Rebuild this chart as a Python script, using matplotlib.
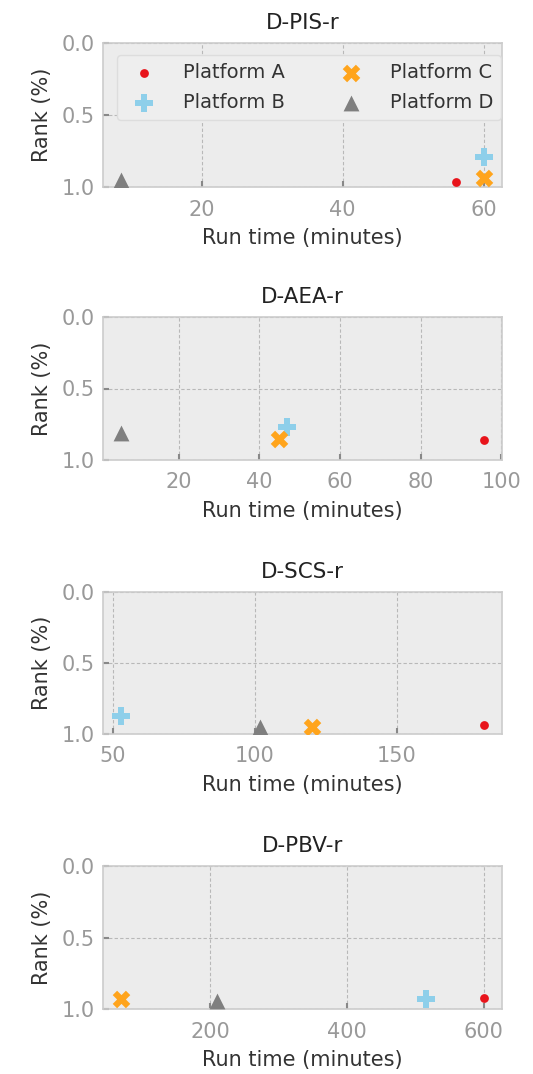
import matplotlib
matplotlib.use("Agg")
import matplotlib.pyplot as plt

titles = ["D-PIS-r", "D-AEA-r", "D-SCS-r", "D-PBV-r"]
platforms = ["Platform A", "Platform B", "Platform C", "Platform D"]

# run time (minutes) per dataset, order: A, B, C, D
runtime_pis = [56.0, 60.0, 60.0, 8.6]
runtime_aea = [95.7, 46.8, 44.8, 5.75]
runtime_scs = [180.7, 52.9, 120.2, 101.8]
runtime_pbv = [600.0, 516.0, 69.3, 209.8]

# rank (%) per dataset, order: A, B, C, D
rank_pis = [0.965, 0.79, 0.94, 0.95]
rank_aea = [0.86, 0.77, 0.85, 0.81]
rank_scs = [0.94, 0.87, 0.95, 0.95]
rank_pbv = [0.92, 0.93, 0.93, 0.945]

runtimes = [runtime_pis, runtime_aea, runtime_scs, runtime_pbv]
ranks = [rank_pis, rank_aea, rank_scs, rank_pbv]

colors = ["#e8141b", "#8ecfea", "#ffa41c", "#7f7f7f"]
markers = ["o", "P", "X", "^"]
sizes = [40, 170, 160, 130]

W, H = 533, 1074
fig = plt.figure(figsize=(W / 100, H / 100), dpi=100)

panel_px = [(43, 187), (317, 460), (592, 734), (866, 1009)]
left_px, right_px = 103, 502

xticks_list = [[20, 40, 60], [20, 40, 60, 80, 100], [50, 100, 150], [200, 400, 600]]

for i in range(4):
    top, bot = panel_px[i]
    ax = fig.add_axes([left_px / W, 1 - bot / H, (right_px - left_px) / W, (bot - top) / H])
    ax.set_facecolor("#ececec")
    for s in ax.spines.values():
        s.set_color("#cccccc")
        s.set_linewidth(1.2)
    for j in range(4):
        ax.scatter(runtimes[i][j], ranks[i][j], c=colors[j], marker=markers[j],
                   s=sizes[j], linewidths=0, label=platforms[j], zorder=3)
    ax.set_ylim(1.0, 0.0)
    ax.set_yticks([0.0, 0.5, 1.0])
    ax.set_xticks(xticks_list[i])
    ax.margins(x=0.05)
    ax.grid(True, color="#b8b8b8", linestyle=(0, (3, 2)), linewidth=0.8)
    ax.set_axisbelow(True)
    ax.tick_params(axis="both", colors="#888888", labelsize=15, direction="in",
                   length=4, width=1.5)
    ax.tick_params(axis="x", pad=9)
    ax.tick_params(axis="y", pad=6)
    ax.tick_params(axis="both", labelcolor="#999999")
    ax.set_xlabel("Run time (minutes)", fontsize=15, color="#333333", labelpad=6)
    ax.set_ylabel("Rank (%)", fontsize=15, color="#333333", labelpad=7)
    ax.set_title(titles[i], fontsize=15.5, color="#222222", pad=10)
    if i == 0:
        leg = ax.legend(ncol=2, loc="upper right", fontsize=14, frameon=True,
                        facecolor="#eeeeee", edgecolor="#dddddd", framealpha=1,
                        borderaxespad=0.3, columnspacing=2.4, handletextpad=1.0,
                        labelspacing=0.55, borderpad=0.4,
                        bbox_to_anchor=(1.012, 0.955))
        for t in leg.get_texts():
            t.set_color("#333333")

fig.savefig("out.png", dpi=100)
